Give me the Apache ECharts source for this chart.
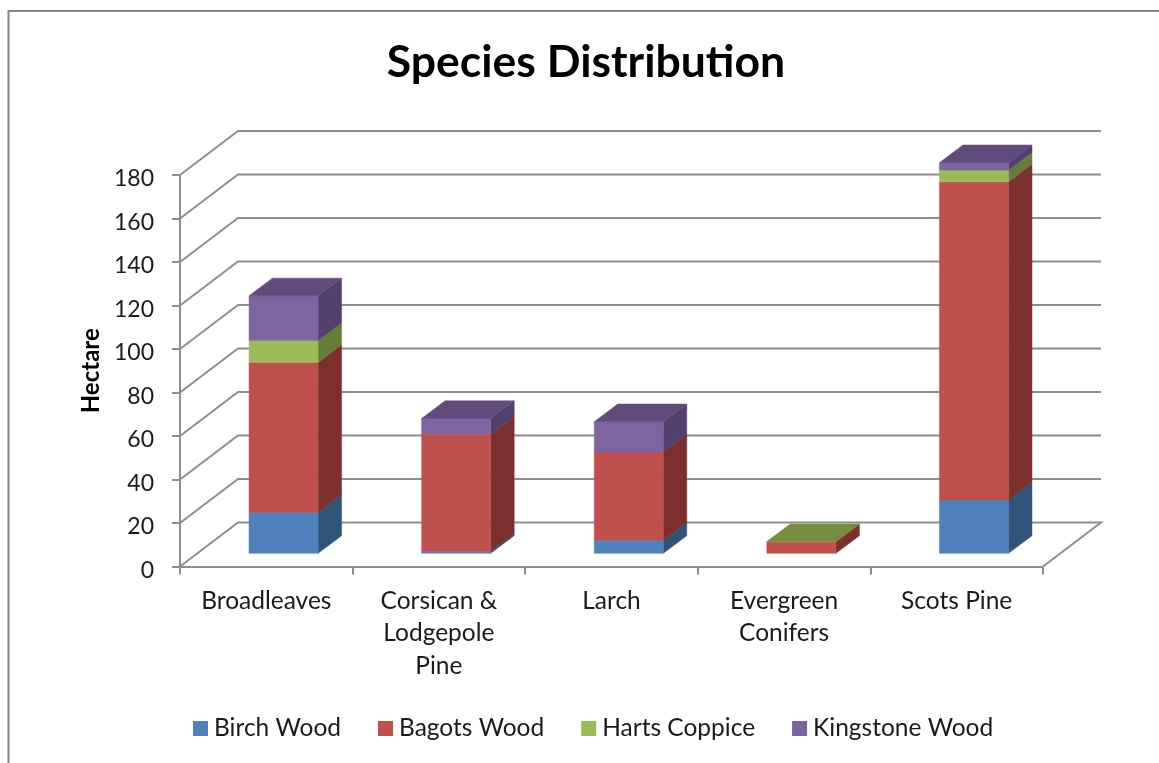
<!DOCTYPE html>
<html>
<head>
<meta charset="utf-8">
<style>html,body{margin:0;padding:0;background:#fff;overflow:hidden}#c{width:1159px;height:763px}</style>
<script src="https://cdn.jsdelivr.net/npm/echarts@6/dist/echarts.min.js"></script>
</head>
<body>
<div id="c"></div>
<script>
const categories = ['Broadleaves', 'Corsican &\nLodgepole\nPine', 'Larch', 'Evergreen\nConifers', 'Scots Pine'];
const birchWood = [18.8, 1, 6, 0, 24.5];
const bagotsWood = [69, 53.8, 40.6, 5.3, 146.3];
const hartsCoppice = [10.1, 0, 0, 0.1, 5.4];
const kingstoneWood = [20.5, 7.2, 13.9, 0, 3.4];
const seriesNames = ['Birch Wood', 'Bagots Wood', 'Harts Coppice', 'Kingstone Wood'];
const seriesValues = [birchWood, bagotsWood, hartsCoppice, kingstoneWood];
const frontColors = ['#4F81BD', '#C0504D', '#9BBB59', '#8064A2'];
const sideColors = ['#305378', '#7B302E', '#667C39', '#533F6C'];
const topColors = ['#3F6797', '#9A403E', '#758F3E', '#614B7A'];
const yTicks = [0, 20, 40, 60, 80, 100, 120, 140, 160, 180];

const FONT = 'Lato';
const GRID = '#8E8E8E';
const WALL_DX = 58, WALL_DY = 44;
const BAR_DX = 23.5, BAR_DY = 17.7;
const FRONT_DX = (WALL_DX - BAR_DX) / 2, FRONT_DY = (WALL_DY - BAR_DY) / 2;

function poly(points, fill) {
  return { type: 'polygon', shape: { points }, style: { fill, stroke: fill, lineWidth: 0.5 } };
}

function stackRows(si) {
  return categories.map((_, c) => {
    let base = 0;
    for (let k = 0; k < si; k++) base += seriesValues[k][c];
    const v = seriesValues[si][c];
    let above = 0;
    for (let k = si + 1; k < seriesValues.length; k++) above += seriesValues[k][c];
    return [c, base, base + v, above === 0 ? 1 : 0];
  });
}

const barSeries = seriesNames.map((name, si) => ({
  name,
  type: 'custom',
  z: 3,
  clip: false,
  itemStyle: { color: frontColors[si] },
  encode: { x: 0, y: [1, 2] },
  data: stackRows(si),
  renderItem(params, api) {
    const c = api.value(0), lo = api.value(1), hi = api.value(2), isTop = api.value(3);
    if (hi <= lo) return { type: 'group', children: [] };
    const w = api.size([1, 0])[0] * 0.4;
    const a = api.coord([c, lo]), b = api.coord([c, hi]);
    const x0 = a[0] - w / 2 + FRONT_DX, x1 = x0 + w;
    const y0 = a[1] - FRONT_DY, y1 = b[1] - FRONT_DY;
    const children = [
      poly([[x1, y0], [x1 + BAR_DX, y0 - BAR_DY], [x1 + BAR_DX, y1 - BAR_DY], [x1, y1]], sideColors[si]),
      poly([[x0, y0], [x1, y0], [x1, y1], [x0, y1]], frontColors[si])
    ];
    if (isTop) {
      children.push(poly([[x0, y1], [x1, y1], [x1 + BAR_DX, y1 - BAR_DY], [x0 + BAR_DX, y1 - BAR_DY]], topColors[si]));
    }
    return { type: 'group', children };
  }
}));

const wallSeries = {
  name: 'Walls',
  type: 'custom',
  z: 1,
  clip: false,
  silent: true,
  encode: { y: 0 },
  data: yTicks.map(v => [v]),
  renderItem(params, api) {
    const v = api.value(0);
    const sys = params.coordSys;
    const y = api.coord([0, v])[1];
    const left = sys.x, right = sys.x + sys.width;
    const pts = [[left, y], [left + WALL_DX, y - WALL_DY], [right + WALL_DX, y - WALL_DY]];
    if (v === 0) pts.push([right, y]);
    return {
      type: 'polyline',
      shape: { points: pts },
      style: { fill: 'none', stroke: GRID, lineWidth: 2 }
    };
  }
};

const chart = echarts.init(document.getElementById('c'), null, { renderer: 'canvas' });
chart.setOption({
  animation: false,
  backgroundColor: '#fff',
  title: {
    text: 'Species Distribution',
    left: 581, top: 35, textAlign: 'center',
    textStyle: { fontFamily: FONT, fontSize: 44.5, fontWeight: 'bold', color: '#000' }
  },
  legend: {
    data: seriesNames,
    left: 188, top: 711,
    itemWidth: 15, itemHeight: 15, itemGap: 37,
    icon: 'rect',
    textStyle: { fontFamily: FONT, fontSize: 24.5, color: '#1a1a1a', padding: [0, 0, 0, 1] }
  },
  grid: { left: 180, width: 863, top: 175, height: 391.5 },
  xAxis: {
    type: 'category',
    data: categories,
    boundaryGap: true,
    axisLine: { lineStyle: { color: GRID, width: 2 } },
    axisTick: { show: true, length: 8, lineStyle: { color: GRID, width: 2 } },
    axisLabel: { fontFamily: FONT, fontSize: 24.5, color: '#1a1a1a', margin: 18, lineHeight: 32.5, interval: 0 }
  },
  yAxis: {
    type: 'value',
    min: 0, max: 180, interval: 20,
    name: 'Hectare',
    nameLocation: 'middle',
    nameGap: 77,
    nameRotate: 90,
    nameTextStyle: { fontFamily: FONT, fontSize: 24, fontWeight: 'bold', color: '#000' },
    splitLine: { show: false },
    axisLine: { show: true, lineStyle: { color: GRID, width: 2 } },
    axisTick: { show: true, length: 8, lineStyle: { color: GRID, width: 2 } },
    axisLabel: { fontFamily: FONT, fontSize: 23, color: '#1a1a1a', margin: 26, verticalAlign: 'top', lineHeight: 8 }
  },
  graphic: [
    { type: 'polyline', silent: true, shape: { points: [[8.5, 763], [8.5, 11], [1159, 11]] },
      style: { fill: 'none', stroke: '#868686', lineWidth: 2 } }
  ],
  series: [wallSeries].concat(barSeries)
});
</script>
</body>
</html>
